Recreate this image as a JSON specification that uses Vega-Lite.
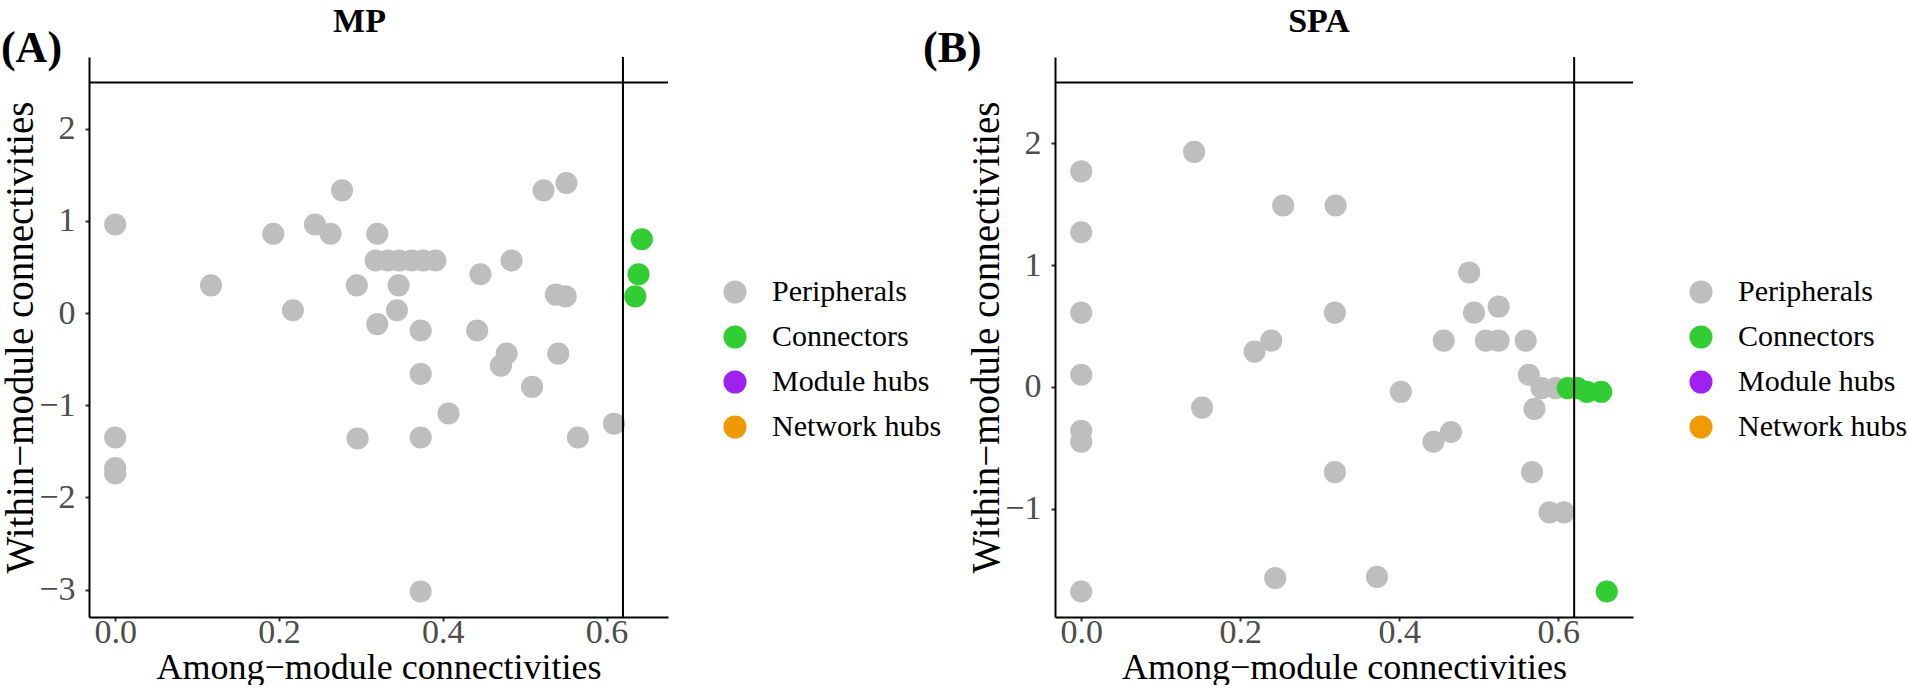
{
  "$schema": "https://vega.github.io/schema/vega-lite/v6.json",
  "background": "white",
  "padding": {"left": 0, "top": 4, "right": 0, "bottom": 0},
  "autosize": {"type": "pad"},
  "config": {
    "font": "Liberation Serif",
    "view": {"stroke": null},
    "axis": {
      "grid": false,
      "domainColor": "black",
      "domainWidth": 2,
      "tickColor": "#333333",
      "tickWidth": 2,
      "tickSize": 4,
      "labelFont": "Liberation Serif",
      "labelFontSize": 34,
      "labelColor": "#4D4D4D",
      "titleFont": "Liberation Serif",
      "titleFontSize": 36,
      "titleFontWeight": "normal",
      "titleColor": "black"
    },
    "axisX": {"labelPadding": -6, "titlePadding": 1},
    "axisY": {"labelPadding": 10, "titlePadding": -2, "titleFontSize": 39},
    "legend": {
      "orient": "none",
      "title": null,
      "symbolType": "circle",
      "symbolSize": 530,
      "symbolStrokeWidth": 0,
      "symbolOpacity": 1,
      "labelFont": "Liberation Serif",
      "labelFontSize": 30,
      "labelColor": "black",
      "labelOffset": 22,
      "rowPadding": 15,
      "labelLimit": 400
    },
    "title": {"font": "Liberation Serif", "fontWeight": "bold", "color": "black"}
  },
  "datasets": {
    "mp": [
      {"x": 0.000, "y": 0.96, "role": "Peripherals"},
      {"x": 0.117, "y": 0.30, "role": "Peripherals"},
      {"x": 0.193, "y": 0.86, "role": "Peripherals"},
      {"x": 0.217, "y": 0.03, "role": "Peripherals"},
      {"x": 0.244, "y": 0.96, "role": "Peripherals"},
      {"x": 0.263, "y": 0.86, "role": "Peripherals"},
      {"x": 0.277, "y": 1.33, "role": "Peripherals"},
      {"x": 0.295, "y": 0.30, "role": "Peripherals"},
      {"x": 0.320, "y": 0.86, "role": "Peripherals"},
      {"x": 0.320, "y": -0.12, "role": "Peripherals"},
      {"x": 0.318, "y": 0.57, "role": "Peripherals"},
      {"x": 0.333, "y": 0.57, "role": "Peripherals"},
      {"x": 0.347, "y": 0.57, "role": "Peripherals"},
      {"x": 0.362, "y": 0.57, "role": "Peripherals"},
      {"x": 0.376, "y": 0.57, "role": "Peripherals"},
      {"x": 0.391, "y": 0.57, "role": "Peripherals"},
      {"x": 0.346, "y": 0.30, "role": "Peripherals"},
      {"x": 0.344, "y": 0.03, "role": "Peripherals"},
      {"x": 0.373, "y": -0.19, "role": "Peripherals"},
      {"x": 0.446, "y": 0.42, "role": "Peripherals"},
      {"x": 0.484, "y": 0.57, "role": "Peripherals"},
      {"x": 0.442, "y": -0.19, "role": "Peripherals"},
      {"x": 0.523, "y": 1.33, "role": "Peripherals"},
      {"x": 0.551, "y": 1.41, "role": "Peripherals"},
      {"x": 0.538, "y": 0.20, "role": "Peripherals"},
      {"x": 0.550, "y": 0.18, "role": "Peripherals"},
      {"x": 0.478, "y": -0.44, "role": "Peripherals"},
      {"x": 0.471, "y": -0.57, "role": "Peripherals"},
      {"x": 0.541, "y": -0.44, "role": "Peripherals"},
      {"x": 0.373, "y": -0.66, "role": "Peripherals"},
      {"x": 0.509, "y": -0.80, "role": "Peripherals"},
      {"x": 0.407, "y": -1.09, "role": "Peripherals"},
      {"x": 0.609, "y": -1.20, "role": "Peripherals"},
      {"x": 0.000, "y": -1.35, "role": "Peripherals"},
      {"x": 0.296, "y": -1.36, "role": "Peripherals"},
      {"x": 0.373, "y": -1.35, "role": "Peripherals"},
      {"x": 0.565, "y": -1.35, "role": "Peripherals"},
      {"x": 0.000, "y": -1.68, "role": "Peripherals"},
      {"x": 0.000, "y": -1.74, "role": "Peripherals"},
      {"x": 0.373, "y": -3.02, "role": "Peripherals"},
      {"x": 0.643, "y": 0.80, "role": "Connectors"},
      {"x": 0.639, "y": 0.42, "role": "Connectors"},
      {"x": 0.635, "y": 0.18, "role": "Connectors"}
    ],
    "spa": [
      {"x": 0.000, "y": 1.77, "role": "Peripherals"},
      {"x": 0.142, "y": 1.93, "role": "Peripherals"},
      {"x": 0.000, "y": 1.27, "role": "Peripherals"},
      {"x": 0.254, "y": 1.49, "role": "Peripherals"},
      {"x": 0.320, "y": 1.49, "role": "Peripherals"},
      {"x": 0.488, "y": 0.94, "role": "Peripherals"},
      {"x": 0.000, "y": 0.61, "role": "Peripherals"},
      {"x": 0.319, "y": 0.61, "role": "Peripherals"},
      {"x": 0.494, "y": 0.61, "role": "Peripherals"},
      {"x": 0.525, "y": 0.66, "role": "Peripherals"},
      {"x": 0.239, "y": 0.38, "role": "Peripherals"},
      {"x": 0.218, "y": 0.29, "role": "Peripherals"},
      {"x": 0.456, "y": 0.38, "role": "Peripherals"},
      {"x": 0.509, "y": 0.38, "role": "Peripherals"},
      {"x": 0.525, "y": 0.38, "role": "Peripherals"},
      {"x": 0.559, "y": 0.38, "role": "Peripherals"},
      {"x": 0.000, "y": 0.10, "role": "Peripherals"},
      {"x": 0.563, "y": 0.10, "role": "Peripherals"},
      {"x": 0.402, "y": -0.04, "role": "Peripherals"},
      {"x": 0.152, "y": -0.17, "role": "Peripherals"},
      {"x": 0.570, "y": -0.18, "role": "Peripherals"},
      {"x": 0.579, "y": -0.01, "role": "Peripherals"},
      {"x": 0.597, "y": -0.01, "role": "Peripherals"},
      {"x": 0.000, "y": -0.36, "role": "Peripherals"},
      {"x": 0.000, "y": -0.45, "role": "Peripherals"},
      {"x": 0.465, "y": -0.37, "role": "Peripherals"},
      {"x": 0.443, "y": -0.45, "role": "Peripherals"},
      {"x": 0.319, "y": -0.70, "role": "Peripherals"},
      {"x": 0.567, "y": -0.70, "role": "Peripherals"},
      {"x": 0.589, "y": -1.03, "role": "Peripherals"},
      {"x": 0.607, "y": -1.03, "role": "Peripherals"},
      {"x": 0.244, "y": -1.57, "role": "Peripherals"},
      {"x": 0.372, "y": -1.56, "role": "Peripherals"},
      {"x": 0.000, "y": -1.68, "role": "Peripherals"},
      {"x": 0.612, "y": -0.01, "role": "Connectors"},
      {"x": 0.624, "y": -0.01, "role": "Connectors"},
      {"x": 0.636, "y": -0.04, "role": "Connectors"},
      {"x": 0.654, "y": -0.04, "role": "Connectors"},
      {"x": 0.661, "y": -1.68, "role": "Connectors"}
    ]
  },
  "spacing": -19,
  "resolve": {"scale": {"x": "independent", "y": "independent", "color": "independent"}, "legend": {"color": "independent"}},
  "hconcat": [
    {
      "width": 579,
      "height": 560,
      "title": {"text": "MP", "fontSize": 34, "anchor": "middle", "frame": "group", "baseline": "alphabetic", "offset": -39, "dx": -19},
      "layer": [
        {
          "data": {"name": "mp"},
          "mark": {"type": "circle", "size": 490, "opacity": 1, "strokeWidth": 0},
          "encoding": {
            "x": {"field": "x", "type": "quantitative", "scale": {"domain": [-0.032, 0.675], "nice": false, "zero": false},
                  "axis": {"title": "Among−module connectivities", "values": [0, 0.2, 0.4, 0.6], "format": ".1f"}},
            "y": {"field": "y", "type": "quantitative", "scale": {"domain": [-3.296, 2.776], "nice": false, "zero": false},
                  "axis": {"title": "Within−module connectivities", "values": [-3, -2, -1, 0, 1, 2], "format": "d"}},
            "color": {"field": "role", "type": "nominal",
                      "scale": {"domain": ["Peripherals", "Connectors", "Module hubs", "Network hubs"], "range": ["#BEBEBE", "#32CD32", "#A020F0", "#EE9A00"]},
                      "legend": {"legendX": 631, "legendY": 220}}
          }
        },
        {
          "data": {"values": [{"label": "(A)"}]},
          "mark": {"type": "text", "align": "left", "baseline": "alphabetic", "fontSize": 44, "fontWeight": "bold", "font": "Liberation Serif", "color": "black"},
          "encoding": {"x": {"datum": -0.1395}, "y": {"datum": 2.722}, "text": {"field": "label"}}
        },
        {
          "data": {"values": [{}]},
          "mark": {"type": "rule", "strokeWidth": 2, "color": "black"},
          "encoding": {"y": {"datum": 2.5}}
        },
        {
          "data": {"values": [{}]},
          "mark": {"type": "rule", "strokeWidth": 2, "color": "black"},
          "encoding": {"x": {"datum": 0.62}}
        }
      ]
    },
    {
      "width": 578,
      "height": 560,
      "title": {"text": "SPA", "fontSize": 34, "anchor": "middle", "frame": "group", "baseline": "alphabetic", "offset": -39, "dx": -25},
      "layer": [
        {
          "data": {"name": "spa"},
          "mark": {"type": "circle", "size": 490, "opacity": 1, "strokeWidth": 0},
          "encoding": {
            "x": {"field": "x", "type": "quantitative", "scale": {"domain": [-0.033, 0.694], "nice": false, "zero": false},
                  "axis": {"title": "Among−module connectivities", "values": [0, 0.2, 0.4, 0.6], "format": ".1f"}},
            "y": {"field": "y", "type": "quantitative", "scale": {"domain": [-1.889, 2.709], "nice": false, "zero": false},
                  "axis": {"title": "Within−module connectivities", "values": [-1, 0, 1, 2], "format": "d"}},
            "color": {"field": "role", "type": "nominal",
                      "scale": {"domain": ["Peripherals", "Connectors", "Module hubs", "Network hubs"], "range": ["#BEBEBE", "#32CD32", "#A020F0", "#EE9A00"]},
                      "legend": {"legendX": 631, "legendY": 220}}
          }
        },
        {
          "data": {"values": [{"label": "(B)"}]},
          "mark": {"type": "text", "align": "left", "baseline": "alphabetic", "fontSize": 44, "fontWeight": "bold", "font": "Liberation Serif", "color": "black"},
          "encoding": {"x": {"datum": -0.199}, "y": {"datum": 2.668}, "text": {"field": "label"}}
        },
        {
          "data": {"values": [{}]},
          "mark": {"type": "rule", "strokeWidth": 2, "color": "black"},
          "encoding": {"y": {"datum": 2.5}}
        },
        {
          "data": {"values": [{}]},
          "mark": {"type": "rule", "strokeWidth": 2, "color": "black"},
          "encoding": {"x": {"datum": 0.62}}
        }
      ]
    }
  ]
}
